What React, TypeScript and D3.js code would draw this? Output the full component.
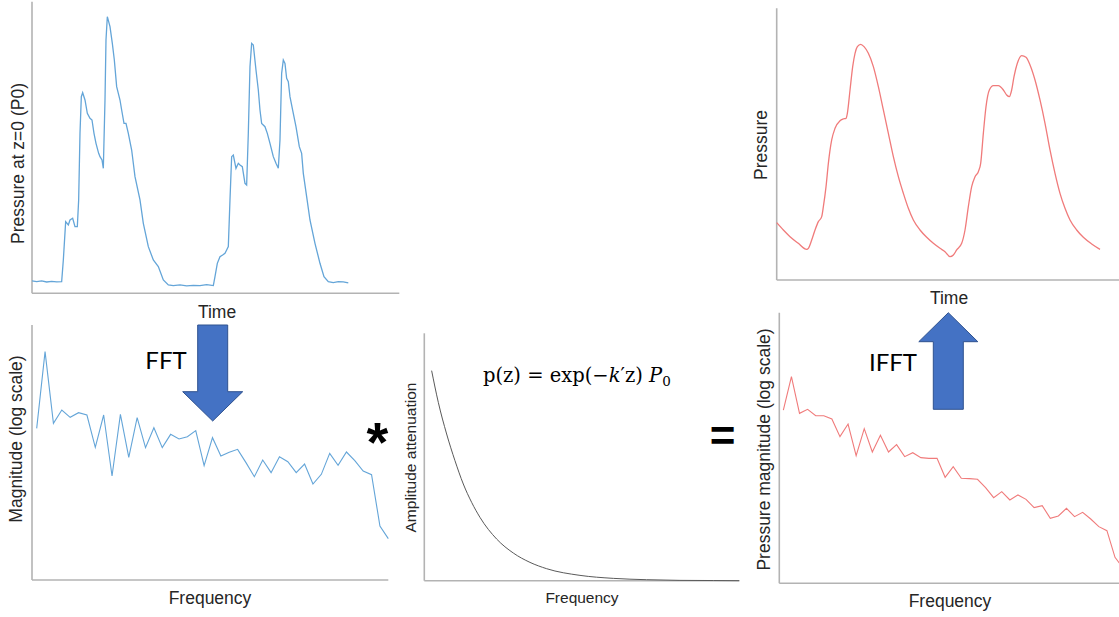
import React from "react";
import * as d3 from "d3";

// ---------- Data ----------
// Panel 1: pressure at z=0 vs time
const p0Time = [0, 0.14, 0.29, 0.44, 0.59, 0.74, 0.89, 0.94, 1.01, 1.09, 1.14, 1.22, 1.29, 1.36, 1.40, 1.44, 1.48, 1.52, 1.59, 1.66, 1.74, 1.80, 1.86, 1.92, 2.00, 2.04, 2.10, 2.14, 2.19, 2.22, 2.26, 2.34, 2.41, 2.47, 2.54, 2.59, 2.64, 2.69, 2.76, 2.82, 2.89, 2.99, 3.09, 3.24, 3.34, 3.49, 3.64, 3.79, 3.94, 4.09, 4.24, 4.44, 4.64, 4.84, 5.04, 5.24, 5.44,
  5.49, 5.56, 5.64, 5.72, 5.79, 5.84, 5.89, 5.94, 5.99, 6.04, 6.12, 6.19, 6.24, 6.31, 6.39, 6.44, 6.49, 6.54, 6.59, 6.64, 6.72, 6.79, 6.84, 6.89, 6.99, 7.06, 7.14, 7.24, 7.32, 7.39, 7.44, 7.49, 7.54, 7.59, 7.64, 7.69, 7.74, 7.82, 7.92, 8.02, 8.09, 8.14, 8.24, 8.34, 8.49, 8.64, 8.76, 8.89, 9.04, 9.19, 9.34, 9.49];
const p0Pressure = [3.7, 3.5, 3.7, 3.4, 3.6, 3.4, 3.5, 10.0, 21.5, 20.5, 22.0, 22.5, 20.0, 20.0, 28.0, 48.0, 59.0, 60.2, 58.0, 54.0, 52.5, 52.0, 48.0, 45.0, 42.0, 41.0, 40.0, 37.5, 58.0, 76.0, 83.0, 80.0, 75.0, 70.0, 62.0, 60.0, 58.0, 55.0, 51.0, 51.0, 48.0, 43.0, 35.0, 28.0, 21.0, 14.0, 10.0, 8.0, 4.0, 2.5, 2.3, 2.5, 2.2, 2.4, 2.3, 2.6, 2.3,
  5.0, 9.0, 11.0, 11.5, 12.0, 13.0, 14.0, 28.0, 41.0, 41.5, 37.5, 39.0, 38.5, 38.0, 33.0, 32.5, 48.0, 68.0, 75.0, 74.5, 67.0, 61.0, 55.0, 51.0, 50.0, 48.0, 45.0, 41.0, 39.0, 37.5, 46.0, 66.0, 70.0, 69.0, 64.5, 63.5, 59.0, 55.0, 50.0, 44.0, 42.0, 36.0, 29.0, 22.0, 15.0, 9.0, 5.0, 3.5, 3.2, 3.5, 3.4, 3.1];

// Panel 2: FFT magnitude (log scale), one value per frequency bin
const fftMagnitude = [45.5, 68.5, 47, 51, 48.8, 50.2, 49.5, 39.8, 49.5, 31.2, 49.7, 36.8, 48.7, 39.7, 45.7, 39.7, 43.7, 42.3, 43, 44.8, 34.3, 42.7, 37.2, 38.3, 39.2, 35.2, 31, 36, 32.2, 37, 35.5, 32.2, 34.8, 28.8, 31.7, 38, 34.4, 38.4, 35.8, 32.7, 31.6, 16.2, 12.4];

// Panel 3: amplitude attenuation vs frequency
const attenFreq = [0.22, 0.42, 0.67, 0.92, 1.17, 1.42, 1.67, 2.17, 2.67, 3.17, 3.67, 4.67, 5.67, 6.67, 7.67, 8.67, 9.45];
const attenAmp = [6.3, 5.35, 4.4, 3.6, 2.9, 2.35, 1.9, 1.25, 0.83, 0.55, 0.36, 0.16, 0.07, 0.03, 0.01, 0.005, 0.0];

// Panel 4: attenuated pressure magnitude (log scale)
const outMagnitude = [52, 62, 51, 52.2, 50.3, 50.3, 49.3, 44, 47.8, 38.3, 46.4, 39.4, 44.4, 39.4, 41.6, 38, 39.2, 37.7, 37.5, 37.5, 31.8, 35, 31.5, 31.4, 31.2, 28.7, 25.7, 27.5, 25, 26.5, 25.2, 22.7, 23.3, 19.5, 20.2, 22.5, 20, 21.3, 19.3, 17, 15.8, 7.8, 4.6];

// Panel 5: reconstructed pressure vs time
const outTime = [0, 0.2, 0.4, 0.65, 0.9, 0.95, 1.05, 1.15, 1.25, 1.35, 1.4, 1.48, 1.55, 1.65, 1.75, 1.9, 2.0, 2.08, 2.12, 2.2, 2.28, 2.35, 2.42, 2.52, 2.62, 2.75, 2.9, 3.05, 3.2, 3.35, 3.5, 3.65, 3.8, 3.95, 4.1, 4.3, 4.5, 4.7, 4.9, 5.05, 5.2, 5.3, 5.4, 5.55, 5.65, 5.75, 5.85, 5.95, 6.05, 6.12, 6.2, 6.28, 6.38, 6.5, 6.65, 6.8, 6.9, 6.98, 7.05, 7.12, 7.22, 7.35, 7.48, 7.6, 7.75, 7.9, 8.05, 8.2, 8.35, 8.5, 8.65, 8.8, 9.0, 9.2, 9.45, 9.7];
const outPressure = [17.2, 15, 13, 11, 9.2, 9.5, 12, 15, 17.5, 19, 22, 28, 35, 42, 45.5, 47.8, 48.3, 48.5, 50, 57, 64, 68, 70, 70.7, 70, 68, 64, 58, 51, 44, 37, 31, 26, 21.5, 18, 15, 12.8, 11, 9.5, 8.5, 7, 7.5, 9, 11, 15, 22, 28, 31, 32.5, 35, 44, 52, 57, 58.3, 58.3, 57, 55.5, 55, 57, 61, 65, 67.3, 66.8, 64.5, 60, 54, 47, 39, 32, 26, 21.5, 18, 15, 12.8, 10.8, 9.2];

// Labels
const labels = {
  time: "Time",
  freq: "Frequency",
  p0: "Pressure at z=0 (P0)",
  mag: "Magnitude (log scale)",
  atten: "Amplitude attenuation",
  pressure: "Pressure",
  pmag: "Pressure magnitude (log scale)",
  fft: "FFT",
  ifft: "IFFT",
};

const AXIS = "#b3b3b3";
const BLUE = "#64a5d8";
const RED = "#f07b7b";
const ARROW = "#4472c4";
const ARROW_EDGE = "#2f528f";
const SANS = "'Liberation Sans', Arial, sans-serif";

function Axes({ x0, x1, y0, y1 }: { x0: number; x1: number; y0: number; y1: number }) {
  return (
    <g>
      <line x1={x0} y1={y0} x2={x0} y2={y1} stroke={AXIS} strokeWidth={1.6} />
      <line x1={x0} y1={y1} x2={x1} y2={y1} stroke={AXIS} strokeWidth={1.6} />
    </g>
  );
}

function YLabel({ x, y, text, size }: { x: number; y: number; text: string; size: number }) {
  return (
    <text transform={`translate(${x},${y}) rotate(-90)`} textAnchor="middle" fontFamily={SANS} fontSize={size} fill="#262626">
      {text}
    </text>
  );
}

function XLabel({ x, y, text, size }: { x: number; y: number; text: string; size: number }) {
  return (
    <text x={x} y={y} textAnchor="middle" fontFamily={SANS} fontSize={size} fill="#262626">
      {text}
    </text>
  );
}

export default function App() {
  // Panel 1
  const x1 = d3.scaleLinear().domain([0, 11.02]).range([32, 399.3]);
  const y1 = d3.scaleLinear().domain([0, 87.5]).range([293.3, 1.7]);
  const line1 = d3.line<number>().x((_, i) => x1(p0Time[i])).y((d) => y1(d)).curve(d3.curveLinear);

  // Panel 2
  const x2 = d3.scaleLinear().domain([-0.56, 42]).range([32, 388.3]);
  const y2 = d3.scaleLinear().domain([0, 76.5]).range([580, 325]);
  const line2 = d3.line<number>().x((_, i) => x2(i)).y((d) => y2(d));

  // Panel 3
  const x3 = d3.scaleLinear().domain([0, 9.45]).range([424.3, 739.3]);
  const y3 = d3.scaleLinear().domain([0, 7.42]).range([580.7, 333.3]);
  const line3 = d3.line<number>().x((_, i) => x3(attenFreq[i])).y((d) => y3(d)).curve(d3.curveMonotoneX);

  // Panel 4 (bottom right)
  const x4 = d3.scaleLinear().domain([-0.5, 42]).range([779.3, 1123.1]);
  const y4 = d3.scaleLinear().domain([0, 81.2]).range([583.3, 312.7]);
  const line4 = d3.line<number>().x((_, i) => x4(i)).y((d) => y4(d));

  // Panel 5 (top right)
  const x5 = d3.scaleLinear().domain([0, 10.27]).range([776.7, 1119]);
  const y5 = d3.scaleLinear().domain([0, 81.5]).range([280, 8.3]);
  const line5 = d3.line<number>().x((_, i) => x5(outTime[i])).y((d) => y5(d)).curve(d3.curveMonotoneX);

  // Arrows
  const downArrow = (cx: number, top: number, headY: number, tip: number, shaftW: number, headW: number) =>
    `M${cx - shaftW / 2},${top} L${cx + shaftW / 2},${top} L${cx + shaftW / 2},${headY} L${cx + headW / 2},${headY} L${cx},${tip} L${cx - headW / 2},${headY} L${cx - shaftW / 2},${headY} Z`;
  const upArrow = (cx: number, bottom: number, headY: number, tip: number, shaftW: number, headW: number) =>
    `M${cx - shaftW / 2},${bottom} L${cx + shaftW / 2},${bottom} L${cx + shaftW / 2},${headY} L${cx + headW / 2},${headY} L${cx},${tip} L${cx - headW / 2},${headY} L${cx - shaftW / 2},${headY} Z`;

  return (
    <svg
      width={1119}
      height={617}
      viewBox="0 0 1119 617"
      style={{ position: "absolute", left: 0, top: 0, background: "#fff" }}
    >
      <rect x={0} y={0} width={1119} height={617} fill="#fff" />

      {/* Panel 1 */}
      <Axes x0={32} x1={399.3} y0={1.7} y1={293.3} />
      <path d={line1(p0Pressure) || ""} fill="none" stroke={BLUE} strokeWidth={1.3} />
      <XLabel x={217} y={317.5} text={labels.time} size={17.5} />
      <YLabel x={24} y={163.5} text={labels.p0} size={17.5} />

      {/* Panel 2 */}
      <Axes x0={32} x1={388.3} y0={325} y1={580} />
      <path d={line2(fftMagnitude) || ""} fill="none" stroke={BLUE} strokeWidth={1.1} />
      <XLabel x={210} y={604} text={labels.freq} size={17.5} />
      <YLabel x={22} y={439} text={labels.mag} size={17.5} />

      {/* FFT arrow */}
      <path d={downArrow(212.7, 325, 391.7, 421, 30, 60)} fill={ARROW} stroke={ARROW_EDGE} strokeWidth={1} />
      <text x={166} y={369} textAnchor="middle" fontFamily="Lato, 'Open Sans', sans-serif" fontSize={24} fill="#000">
        {labels.fft}
      </text>

      {/* Convolution operator */}
      <text x={377.5} y={461} textAnchor="middle" fontFamily={SANS} fontWeight="bold" fontSize={56} fill="#000">
        *
      </text>

      {/* Panel 3 */}
      <Axes x0={424.3} x1={739.3} y0={333.3} y1={580.7} />
      <path d={line3(attenAmp) || ""} fill="none" stroke="#5a5a5a" strokeWidth={1} />
      <XLabel x={582} y={603} text={labels.freq} size={15.5} />
      <YLabel x={415.5} y={457.5} text={labels.atten} size={15.5} />
      <text x={483} y={382} fontFamily="'DejaVu Serif', 'Liberation Serif', serif" fontSize={19.5} fill="#000">
        <tspan>p(z) = exp(−</tspan>
        <tspan fontStyle="italic">k</tspan>
        <tspan>′z) </tspan>
        <tspan fontStyle="italic">P</tspan>
        <tspan fontSize={13.5} dy={4}>0</tspan>
      </text>

      {/* Equals */}
      <text x={722.5} y={451} textAnchor="middle" fontFamily={SANS} fontWeight="bold" fontSize={44} fill="#000">
        =
      </text>

      {/* Panel 4 (bottom right) */}
      <Axes x0={779.3} x1={1123} y0={312.7} y1={583.3} />
      <path d={line4(outMagnitude) || ""} fill="none" stroke={RED} strokeWidth={1.1} />
      <XLabel x={950} y={607} text={labels.freq} size={17.5} />
      <YLabel x={770} y={449.5} text={labels.pmag} size={17.5} />

      {/* IFFT arrow */}
      <path d={upArrow(948.3, 409.3, 341.7, 312.7, 30, 59)} fill={ARROW} stroke={ARROW_EDGE} strokeWidth={1} />
      <text x={893} y={370.5} textAnchor="middle" fontFamily="Lato, 'Open Sans', sans-serif" fontSize={24} fill="#000">
        {labels.ifft}
      </text>

      {/* Panel 5 (top right) */}
      <Axes x0={776.7} x1={1123} y0={8.3} y1={280} />
      <path d={line5(outPressure) || ""} fill="none" stroke={RED} strokeWidth={1.3} />
      <XLabel x={949} y={303.5} text={labels.time} size={17.5} />
      <YLabel x={767} y={145} text={labels.pressure} size={17.5} />
    </svg>
  );
}
